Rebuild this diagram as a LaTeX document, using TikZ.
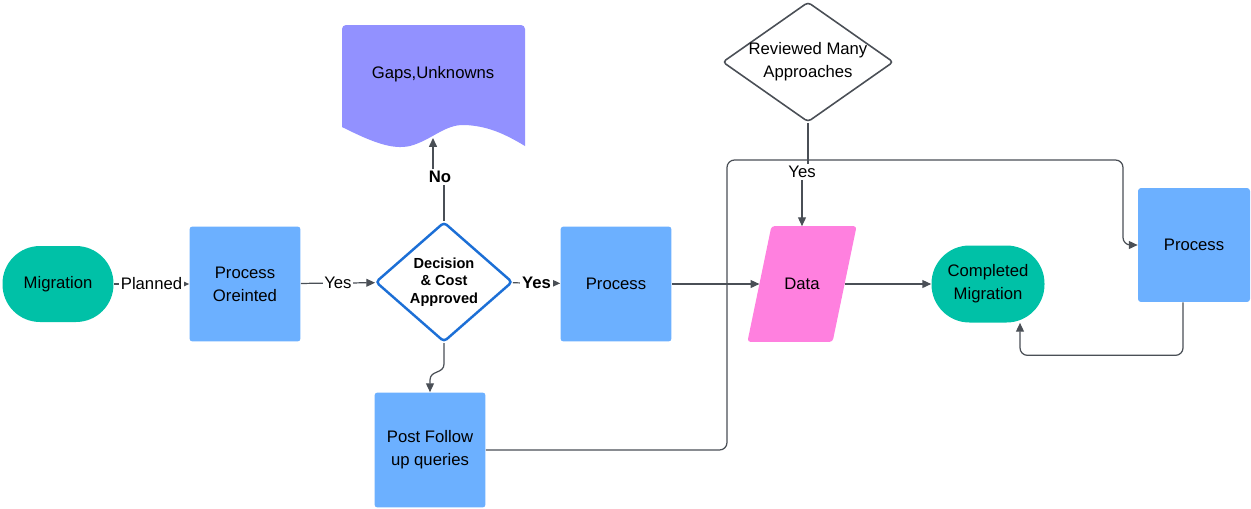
\documentclass[tikz,border=0pt]{standalone}
\usepackage{fontspec}
\setmainfont{Liberation Sans}
\usetikzlibrary{arrows.meta,shapes.geometric,calc,backgrounds}
\definecolor{boxteal}{HTML}{00C1A7}
\definecolor{boxblue}{HTML}{6CB0FF}
\definecolor{boxpink}{HTML}{FF80DF}
\definecolor{boxviolet}{HTML}{9291FF}
\definecolor{edgeblue}{HTML}{1C6FD6}
\definecolor{linegray}{HTML}{4A4F56}

\begin{document}
\begin{tikzpicture}[x=0.02cm, y=-0.02cm, >={Triangle[length=5pt,width=4.5pt]},
  txt/.style={font=\fontsize{9.5}{13}\selectfont, align=center},
  termbox/.style={txt, fill=boxteal, rounded corners=0.75cm, minimum width=2.22cm, minimum height=1.52cm},
  procbox/.style={txt, fill=boxblue, rounded corners=0.06cm, minimum width=2.22cm, minimum height=2.3cm},
  decbox/.style={txt, diamond, rounded corners=2pt, fill=white, inner sep=0pt},
  conn/.style={->, draw=linegray, line width=0.7pt},
  lbl/.style={fill=white, inner sep=1pt, font=\fontsize{9.5}{11}\selectfont}]
\useasboundingbox (0,0) rectangle (1251,508);
% shapes
\node[termbox] (mig) at (58,284) {Migration};
\node[procbox] (po) at (245,284) {Process\\Oreinted};
\node[decbox, draw=edgeblue, line width=1.4pt, minimum width=2.74cm, minimum height=2.4cm,
  font=\bfseries\fontsize{8.3}{10}\selectfont] (dec) at (444,282) {Decision\\\& Cost\\Approved};
\node[procbox] (proc) at (616,284) {Process};
\node[procbox] (post) at (430,450) {Post Follow\\up queries};
\node[txt, minimum width=1.69cm, minimum height=2.3cm] (data) at (802,284) {Data};
\begin{scope}[on background layer]
\fill[boxpink, rounded corners=0.06cm] ($(data.south west)+(-12,0)$) -- ($(data.north west)+(12,0)$)
  -- ($(data.north east)+(12,0)$) -- ($(data.south east)+(-12,0)$) -- cycle;
\end{scope}
\node[termbox, minimum width=2.26cm, minimum height=1.54cm, rounded corners=0.76cm] (done) at (988,284) {Completed\\Migration};
\node[procbox, minimum width=2.24cm, minimum height=2.28cm] (proc2) at (1194,245) {Process};
\node[decbox, draw=linegray, line width=0.9pt, aspect=1.45, minimum width=3.42cm, minimum height=2.4cm]
  (rev) at (808,62) {\makebox[0pt]{Reviewed Many}\\\makebox[0pt]{Approaches}};
% document shape
\fill[boxviolet] (342,127) [rounded corners=0.08cm] -- (342,25) -- (525,25) [sharp corners] -- (525,146)
  .. controls (505,134) and (488,126) .. (465,125)
  .. controls (445,124) and (432,140) .. (410,146)
  .. controls (392,150) and (372,142) .. (342,127) -- cycle;
\node[txt] (gaps) at (433,74) {Gaps,Unknowns};
\coordinate (gapsb) at (433,138);
% connectors
\draw[conn] (mig) -- node[lbl] {Planned} (po);
\draw[conn] (po) -- node[lbl] {Yes} (dec);
\draw[conn] (dec) -- node[lbl, font=\bfseries\fontsize{9.5}{11}\selectfont] {Yes} (proc);
\node[lbl, font=\bfseries\fontsize{9.5}{11}\selectfont] (nolbl) at (440,177) {No};
\draw[draw=linegray, line width=0.7pt] (dec.north) -- (dec.north |- nolbl.south);
\draw[conn] (gapsb |- nolbl.north) -- (gapsb);
\draw[conn] (dec.south) -- (444,364) .. controls (444,374) and (430,370) .. (430,380) -- (post.north);
\draw[conn] (proc) -- (data);
\draw[conn] (data) -- (done);
\draw[conn, rounded corners=0.15cm] (post.east) -| (727,160) -| (1123,245) -- (proc2.west);
\draw[conn, rounded corners=0.15cm] ([xshift=-0.22cm]proc2.south) -- ++(0,53) -| ([xshift=0.64cm]done.south);
\node[lbl] (yes3) at (802,172) {Yes};
\draw[draw=linegray, line width=0.7pt] (rev.south) -- (rev.south |- yes3.north);
\draw[conn] (yes3.south) -- (yes3.south |- data.north);
\end{tikzpicture}
\end{document}
